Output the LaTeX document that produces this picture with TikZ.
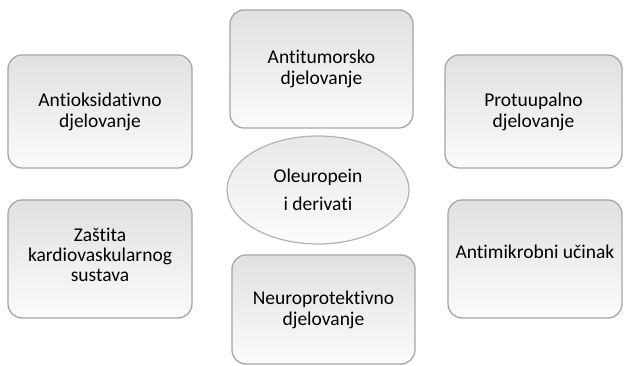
\documentclass[tikz,border=0pt]{standalone}
\usepackage{fontspec}
\setmainfont{Carlito}[Ligatures={NoCommon}]
\usetikzlibrary{shapes.geometric}
\tikzset{
  card/.style={draw=gray!70, line width=1.3pt, rounded corners=14pt,
    top color=gray!24, bottom color=gray!3, align=center,
    font=\fontsize{19.5}{21}\selectfont, inner sep=0pt},
  label/.style={align=center, font=\fontsize{19.5}{20}\selectfont, inner sep=0pt},
  hub/.style={ellipse, draw=gray!60, line width=1.2pt, top color=gray!18, bottom color=gray!3,
    align=center, font=\fontsize{19.5}{28}\selectfont, inner sep=0pt,
    minimum width=182pt, minimum height=108pt}
}
\begin{document}
\begin{tikzpicture}[x=1pt,y=-1pt]
\useasboundingbox (0,0) rectangle (625,366);
\node[card, minimum width=184pt, minimum height=113pt] (aox) at (100,111.5) {Antioksidativno\\djelovanje};
\node[card, minimum width=183pt, minimum height=118pt] (atu) at (321.5,69) {Antitumorsko\\djelovanje};
\node[card, minimum width=177pt, minimum height=113pt] (pro) at (533.5,111.5) {Protuupalno\\djelovanje};
\node[card, minimum width=184pt, minimum height=118pt] (kar) at (100,259) {};
\node[label] (kartxt) at (100,255) {Zaštita\\kardiovaskularnog\\sustava};
\node[card, minimum width=174pt, minimum height=118pt] (ami) at (535,259) {};
\node[label] (amitxt) at (535,252) {Antimikrobni učinak};
\node[card, minimum width=183pt, minimum height=109pt] (neu) at (323.5,309.5) {Neuroprotektivno\\djelovanje};
\node[hub] (ole) at (318,190) {Oleuropein\\i derivati};
\end{tikzpicture}
\end{document}
